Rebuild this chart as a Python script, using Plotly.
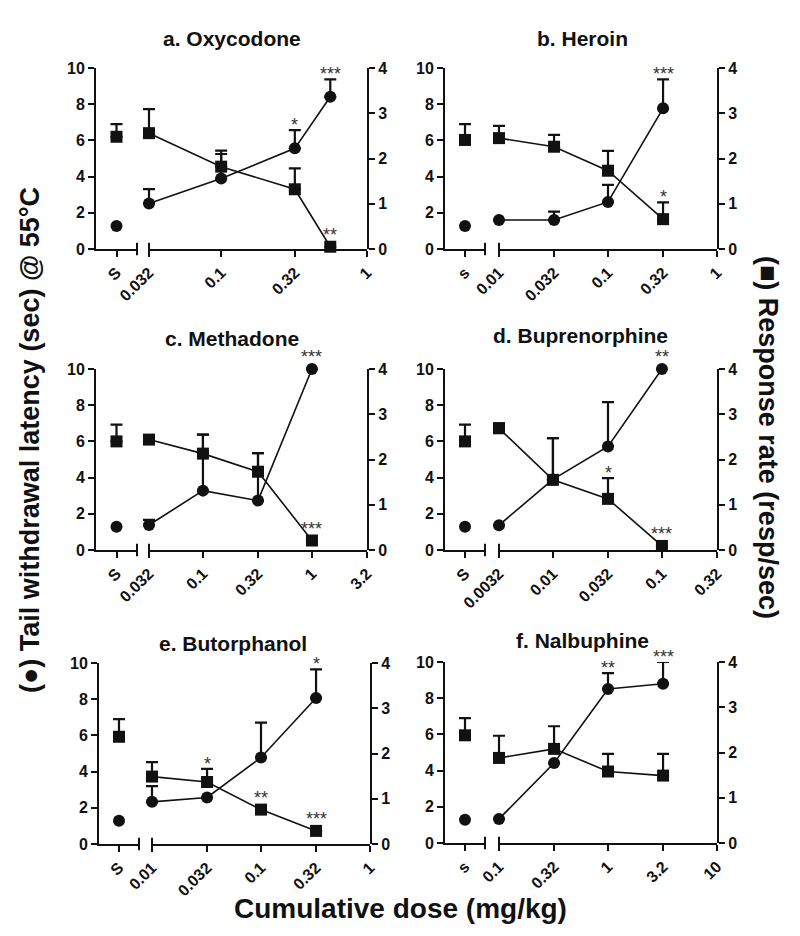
import math
import plotly.graph_objects as go

# browser body margin (8px) is compensated so that the page fits the 800x936 window
OFF = 8
W, H = 800 - 2 * OFF, 936 - 2 * OFF

panel_titles = ["a. Oxycodone", "b. Heroin", "c. Methadone",
                "d. Buprenorphine", "e. Butorphanol", "f. Nalbuphine"]
saline_labels = ["S", "s", "S", "S", "S", "s"]

# Saline (S) values per panel
saline_latency = [1.27, 1.27, 1.29, 1.29, 1.29, 1.29]
saline_rate = [2.48, 2.41, 2.40, 2.40, 2.37, 2.38]
saline_rate_err = [0.28, 0.35, 0.37, 0.37, 0.39, 0.38]

# a. Oxycodone
doses_a = [0.032, 0.1, 0.32, 0.56]
latency_a = [2.52, 3.89, 5.56, 8.41]
latency_err_a = [0.79, 1.54, 1.01, 0.96]
rate_a = [2.56, 1.82, 1.32, 0.05]
rate_err_a = [0.53, 0.28, 0.46, 0.0]
latency_sig_a = ["", "", "*", "***"]
rate_sig_a = ["", "", "", "**"]
ticks_a = [0.032, 0.1, 0.32, 1]
tick_labels_a = ["0.032", "0.1", "0.32", "1"]

# b. Heroin
doses_b = [0.01, 0.032, 0.1, 0.32]
latency_b = [1.60, 1.60, 2.60, 7.77]
latency_err_b = [0.0, 0.46, 0.94, 1.60]
rate_b = [2.45, 2.26, 1.73, 0.66]
rate_err_b = [0.27, 0.26, 0.44, 0.37]
latency_sig_b = ["", "", "", "***"]
rate_sig_b = ["", "", "", "*"]
ticks_b = [0.01, 0.032, 0.1, 0.32, 1]
tick_labels_b = ["0.01", "0.032", "0.1", "0.32", "1"]

# c. Methadone
doses_c = [0.032, 0.1, 0.32, 1]
latency_c = [1.38, 3.28, 2.73, 10.0]
latency_err_c = [0.28, 3.09, 2.62, 0.0]
rate_c = [2.44, 2.13, 1.73, 0.21]
rate_err_c = [0.0, 0.42, 0.41, 0.0]
latency_sig_c = ["", "", "", "***"]
rate_sig_c = ["", "", "", "***"]
ticks_c = [0.032, 0.1, 0.32, 1, 3.2]
tick_labels_c = ["0.032", "0.1", "0.32", "1", "3.2"]

# d. Buprenorphine
doses_d = [0.0032, 0.01, 0.032, 0.1]
latency_d = [1.37, 3.9, 5.72, 10.0]
latency_err_d = [0.0, 2.28, 2.45, 0.0]
rate_d = [2.69, 1.55, 1.13, 0.09]
rate_err_d = [0.11, 0.92, 0.46, 0.0]
latency_sig_d = ["", "", "", "**"]
rate_sig_d = ["", "", "*", "***"]
ticks_d = [0.0032, 0.01, 0.032, 0.1, 0.32]
tick_labels_d = ["0.0032", "0.01", "0.032", "0.1", "0.32"]

# e. Butorphanol
doses_e = [0.01, 0.032, 0.1, 0.32]
latency_e = [2.33, 2.57, 4.78, 8.07]
latency_err_e = [0.87, 0.0, 1.93, 1.58]
rate_e = [1.49, 1.37, 0.76, 0.29]
rate_err_e = [0.32, 0.29, 0.0, 0.0]
latency_sig_e = ["", "", "", "*"]
rate_sig_e = ["", "*", "**", "***"]
ticks_e = [0.01, 0.032, 0.1, 0.32, 1]
tick_labels_e = ["0.01", "0.032", "0.1", "0.32", "1"]

# f. Nalbuphine
doses_f = [0.1, 0.32, 1, 3.2]
latency_f = [1.33, 4.42, 8.51, 8.80]
latency_err_f = [0.0, 0.0, 0.88, 1.20]
rate_f = [1.88, 2.08, 1.58, 1.49]
rate_err_f = [0.49, 0.50, 0.39, 0.48]
latency_sig_f = ["", "", "**", "***"]
rate_sig_f = ["", "", "", ""]
ticks_f = [0.1, 0.32, 1, 3.2, 10]
tick_labels_f = ["0.1", "0.32", "1", "3.2", "10"]

panels = [
    (doses_a, latency_a, latency_err_a, rate_a, rate_err_a, latency_sig_a, rate_sig_a, ticks_a, tick_labels_a),
    (doses_b, latency_b, latency_err_b, rate_b, rate_err_b, latency_sig_b, rate_sig_b, ticks_b, tick_labels_b),
    (doses_c, latency_c, latency_err_c, rate_c, rate_err_c, latency_sig_c, rate_sig_c, ticks_c, tick_labels_c),
    (doses_d, latency_d, latency_err_d, rate_d, rate_err_d, latency_sig_d, rate_sig_d, ticks_d, tick_labels_d),
    (doses_e, latency_e, latency_err_e, rate_e, rate_err_e, latency_sig_e, rate_sig_e, ticks_e, tick_labels_e),
    (doses_f, latency_f, latency_err_f, rate_f, rate_err_f, latency_sig_f, rate_sig_f, ticks_f, tick_labels_f),
]

# layout geometry (window pixels): saline segment, dose segment, plot top/bottom
geom = [
    (96, 137, 149, 367, 68, 249),
    (445, 485, 499, 717, 68, 249),
    (96, 137, 149, 367, 369, 550),
    (445, 485, 499, 717, 369, 550),
    (99, 139, 152, 370, 663, 844),
    (445, 485, 499, 717, 662, 843),
]
title_pos = [(232, 38), (582, 38), (232, 338), (580, 335), (233, 643), (582, 640)]
PAD = 9  # extra clip room (px) around the dose axis so error-bar caps are not cut

FONT = "Liberation Sans, Arial, Helvetica, sans-serif"
BLACK = "#111111"
tickfont = dict(family=FONT, size=16, color=BLACK, weight="bold")

fig = go.Figure()
layout = dict(
    width=W, height=H, margin=dict(l=0, r=0, t=0, b=0, autoexpand=False),
    paper_bgcolor="white", plot_bgcolor="rgba(0,0,0,0)", showlegend=False,
    font=dict(family=FONT, color=BLACK),
)
annotations = []
shapes = []


def px_x(v):
    return (v - OFF) / W


def px_y(v):
    return 1 - (v - OFF) / H


def ax_id(letter, n):
    return letter if n == 1 else f"{letter}{n}"


def ax_key(letter, n):
    return f"{letter}axis" if n == 1 else f"{letter}axis{n}"


marker_c = dict(symbol="circle", size=12, color=BLACK)
marker_s = dict(symbol="square", size=12, color=BLACK)


def errs(arr):
    return dict(type="data", symmetric=False, array=arr, arrayminus=[0] * len(arr),
                color=BLACK, thickness=2.2, width=6, visible=True)


common_axis = dict(showline=True, linewidth=2, linecolor=BLACK, ticks="outside",
                   ticklen=6, tickwidth=2, tickcolor=BLACK, showgrid=False,
                   zeroline=False, tickfont=tickfont, automargin=False, fixedrange=True)
star_font = dict(family=FONT, size=18, color="#333333")

for i, (doses, lat, lat_err, rate, rate_err, lat_sig, rate_sig, ticks, tlabels) in enumerate(panels):
    sx0, sx1, dx0, dx1, top, bot = geom[i]
    nS, nD, nT = 3 * i + 1, 3 * i + 2, 3 * i + 3
    nL, nR = 2 * i + 1, 2 * i + 2
    xs, xd, xt = ax_id("x", nS), ax_id("x", nD), ax_id("x", nT)
    yl, yr = ax_id("y", nL), ax_id("y", nR)
    ydom = [px_y(bot), px_y(top)]
    lo, hi = math.log10(ticks[0]), math.log10(ticks[-1])
    k = (hi - lo) / (dx1 - dx0)

    layout[ax_key("x", nS)] = dict(domain=[px_x(sx0), px_x(sx1)], anchor=yl, range=[-1, 1],
                                   tickvals=[0], ticktext=[saline_labels[i]], tickangle=-45,
                                   **common_axis)
    layout[ax_key("x", nD)] = dict(domain=[px_x(dx0), px_x(dx1)], anchor=yr, type="log",
                                   range=[lo, hi], tickvals=ticks, ticktext=tlabels,
                                   tickangle=-45, **common_axis)
    # hidden twin of the dose axis (same scale, a little wider) that carries the traces
    layout[ax_key("x", nT)] = dict(domain=[px_x(dx0 - PAD), px_x(dx1 + PAD)], anchor=yr,
                                   type="log", range=[lo - PAD * k, hi + PAD * k],
                                   visible=False, fixedrange=True)
    layout[ax_key("y", nL)] = dict(domain=ydom, anchor=xs, range=[0, 10],
                                   tickvals=[0, 2, 4, 6, 8, 10], **common_axis)
    layout[ax_key("y", nR)] = dict(domain=ydom, anchor=xd, side="right", range=[0, 4],
                                   tickvals=[0, 1, 2, 3, 4], **common_axis)

    # saline points
    fig.add_trace(go.Scatter(x=[0], y=[saline_rate[i]], xaxis=xs, yaxis=yr, mode="markers",
                             marker=marker_s, error_y=errs([saline_rate_err[i]]), cliponaxis=False))
    fig.add_trace(go.Scatter(x=[0], y=[saline_latency[i]], xaxis=xs, yaxis=yl, mode="markers",
                             marker=marker_c, cliponaxis=False))
    # dose-effect curves
    fig.add_trace(go.Scatter(x=doses, y=rate, xaxis=xt, yaxis=yr, mode="lines+markers",
                             line=dict(color=BLACK, width=1.6), marker=marker_s,
                             error_y=errs(rate_err), cliponaxis=False))
    fig.add_trace(go.Scatter(x=doses, y=lat, xaxis=xt, yaxis=yl, mode="lines+markers",
                             line=dict(color=BLACK, width=1.6), marker=marker_c,
                             error_y=errs(lat_err), cliponaxis=False))

    # significance stars
    for d, v, e, s in zip(doses, lat, lat_err, lat_sig):
        if s:
            annotations.append(dict(x=math.log10(d), y=v + e, xref=xd, yref=yl, text=s,
                                    showarrow=False, xanchor="center", yanchor="bottom",
                                    yshift=(-7 if e > 0 else 0), font=star_font))
    for d, v, e, s in zip(doses, rate, rate_err, rate_sig):
        if s:
            annotations.append(dict(x=math.log10(d), y=v + e, xref=xd, yref=yr, text=s,
                                    showarrow=False, xanchor="center", yanchor="bottom",
                                    yshift=(-7 if e > 0 else 0), font=star_font))

    # axis break marks
    for xr, xv in ((f"{xs} domain", 1), (f"{xd} domain", 0)):
        shapes.append(dict(type="line", xref=xr, yref=f"{yl} domain", x0=xv, x1=xv,
                           y0=-0.035, y1=0.035, line=dict(color=BLACK, width=2)))

    # panel title
    tx, ty = title_pos[i]
    annotations.append(dict(x=px_x(tx), y=px_y(ty), xref="paper", yref="paper",
                            xanchor="center", yanchor="middle",
                            text=panel_titles[i], showarrow=False,
                            font=dict(family=FONT, size=21, color=BLACK, weight="bold")))

# global axis titles
annotations.append(dict(x=px_x(30), y=px_y(440), xref="paper", yref="paper", textangle=-90,
                        xanchor="center", yanchor="middle",
                        text="(\u25CF) Tail withdrawal latency (sec) @ 55\u00B0C", showarrow=False,
                        font=dict(family=FONT, size=27, color=BLACK, weight="bold")))
annotations.append(dict(x=px_x(768), y=px_y(437), xref="paper", yref="paper", textangle=90,
                        xanchor="center", yanchor="middle",
                        text="(\u25A0) Response rate (resp/sec)", showarrow=False,
                        font=dict(family=FONT, size=27, color=BLACK, weight="bold")))
annotations.append(dict(x=px_x(400), y=px_y(908), xref="paper", yref="paper",
                        xanchor="center", yanchor="middle",
                        text="Cumulative dose (mg/kg)", showarrow=False,
                        font=dict(family=FONT, size=28, color=BLACK, weight="bold")))

layout["annotations"] = annotations
layout["shapes"] = shapes
fig.update_layout(**layout)
fig.write_html("out.html")
